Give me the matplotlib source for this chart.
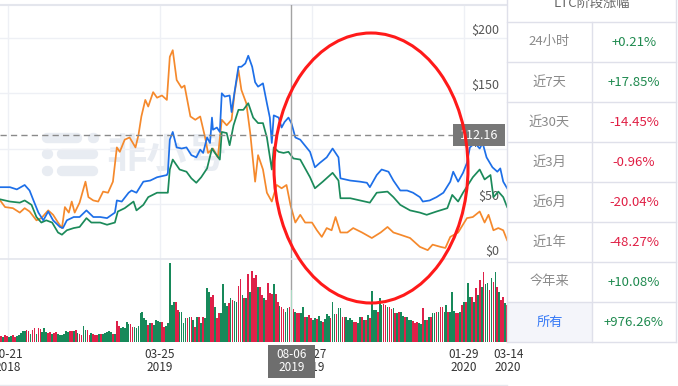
import numpy as np
import matplotlib
matplotlib.use('Agg')
import matplotlib.pyplot as plt
from matplotlib.patches import Ellipse, Rectangle
from matplotlib import transforms

plt.rcParams['font.family'] = ['Noto Sans CJK SC', 'DejaVu Sans']

# days counted from 2018-10-21
blue_day = [-8, 2, 9, 17, 22, 26, 31, 36, 41, 46, 53, 56, 60, 67, 73, 80, 87, 94, 101, 109,
            111, 116, 123, 126, 131, 138, 145, 152, 162, 163, 165, 168, 172, 177, 182, 187, 192, 196, 199, 203,
            206, 208, 209, 213, 216, 218, 221, 226, 228, 231, 235, 238, 242, 245, 249, 252, 255, 260, 264, 267,
            269, 271, 276, 279, 282, 286, 289, 293, 298, 308, 313, 318, 325, 331, 337, 339, 349, 359, 366, 369,
            376, 381, 388, 393, 400, 407, 413, 420, 423, 430, 437, 444, 451, 454, 459, 464, 468, 471, 476, 481,
            484, 488, 494, 499, 502, 505, 509]
blue_val = [65, 65, 63, 67, 62, 53, 42, 35, 43, 35, 29, 28, 35, 38, 38, 44, 38, 38, 37, 42,
            53, 52, 60, 62, 60, 70, 71, 74, 76, 78, 108, 115, 101, 100, 101, 94, 92, 99, 96, 110,
            105, 128, 117, 119, 115, 150, 147, 148, 133, 151, 174, 174, 177, 184, 174, 160, 156, 159, 141, 128,
            105, 130, 128, 119, 124, 128, 123, 110, 108, 97, 83, 87, 92, 100, 92, 73, 71, 70, 69, 65,
            76, 81, 79, 71, 62, 62, 60, 56, 52, 53, 56, 60, 70, 79, 70, 78, 87, 101, 105, 100,
            105, 92, 83, 79, 82, 70, 64]

green_day = [-8, 2, 12, 17, 24, 29, 34, 39, 45, 51, 55, 60, 67, 73, 80, 85, 94, 101, 109, 112,
             119, 128, 131, 138, 143, 152, 162, 163, 165, 168, 175, 182, 187, 192, 197, 203, 208, 211, 216, 218,
             223, 226, 230, 235, 240, 245, 250, 255, 260, 264, 269, 271, 276, 281, 286, 291, 298, 308, 313, 321,
             331, 337, 339, 349, 359, 369, 376, 387, 393, 400, 410, 420, 427, 437, 448, 453, 459, 464, 469, 474,
             481, 486, 492, 495, 500, 505, 509]
green_val = [54, 52, 51, 53, 49, 38, 33, 35, 33, 24, 22, 26, 28, 29, 37, 33, 33, 31, 33, 43,
             46, 52, 44, 49, 56, 60, 60, 60, 81, 90, 81, 79, 73, 69, 74, 82, 100, 96, 90, 115,
             114, 103, 121, 135, 135, 141, 128, 123, 123, 110, 81, 101, 97, 96, 97, 91, 90, 74, 64, 70,
             78, 71, 55, 55, 53, 51, 60, 61, 56, 49, 44, 42, 40, 43, 46, 58, 52, 60, 67, 74,
             81, 72, 76, 56, 61, 56, 47]

orange_day = [-8, -3, 5, 12, 17, 22, 29, 34, 41, 46, 51, 55, 58, 62, 65, 68, 73, 79, 82, 87,
              92, 97, 102, 107, 111, 114, 119, 124, 130, 133, 136, 140, 143, 148, 152, 157, 162, 165, 168, 172,
              177, 180, 186, 191, 196, 201, 204, 209, 214, 218, 223, 228, 231, 235, 238, 243, 247, 252, 255, 260,
              264, 269, 274, 279, 284, 288, 293, 298, 303, 310, 315, 320, 325, 330, 334, 339, 346, 352, 361, 371,
              380, 387, 393, 400, 410, 420, 428, 433, 441, 446, 451, 459, 468, 474, 481, 486, 490, 495, 500, 505,
              509]
orange_val = [53, 47, 46, 42, 46, 43, 35, 37, 44, 40, 33, 28, 47, 42, 52, 42, 51, 70, 56, 53,
              52, 61, 60, 70, 101, 97, 108, 110, 101, 112, 129, 144, 138, 151, 146, 148, 144, 183, 189, 162,
              155, 157, 129, 126, 129, 110, 96, 100, 92, 126, 121, 126, 150, 171, 153, 141, 114, 70, 94, 81,
              60, 52, 67, 64, 67, 49, 33, 40, 33, 33, 26, 20, 28, 26, 38, 24, 24, 28, 24, 19,
              24, 29, 24, 22, 19, 11, 8, 13, 11, 10, 20, 24, 37, 38, 43, 33, 40, 26, 28, 26,
              17]

# volume bars, one every 2 days starting at day -7
vol_start = -7
vol_step = 2
volume = [6, 5, 7, 6, 5, 6, 7, 5, 6, 7, 9, 11, 11, 12, 11, 8, 12, 14, 8, 14,
          13, 10, 14, 10, 9, 10, 8, 9, 10, 8, 7, 7, 8, 11, 10, 11, 11, 11, 12, 9,
          8, 7, 16, 12, 12, 7, 9, 8, 7, 7, 8, 8, 8, 9, 10, 11, 10, 8, 8, 21,
          16, 14, 15, 14, 20, 18, 18, 15, 15, 14, 16, 29, 30, 24, 22, 17, 19, 19, 17, 22,
          21, 20, 20, 15, 16, 19, 79, 37, 40, 40, 32, 30, 30, 19, 24, 24, 25, 25, 22, 15,
          25, 25, 19, 25, 24, 54, 50, 45, 47, 35, 24, 29, 29, 58, 39, 36, 39, 44, 42, 41,
          40, 56, 63, 47, 44, 44, 68, 50, 71, 64, 67, 55, 55, 47, 44, 42, 59, 49, 48, 58,
          48, 40, 36, 35, 33, 30, 34, 35, 52, 33, 30, 29, 29, 29, 35, 25, 25, 27, 24, 22,
          24, 23, 26, 21, 20, 23, 28, 26, 24, 40, 28, 28, 34, 34, 25, 25, 25, 22, 24, 22,
          20, 20, 19, 25, 25, 22, 22, 27, 24, 51, 32, 32, 30, 44, 37, 38, 37, 35, 35, 33,
          34, 29, 29, 30, 30, 26, 25, 25, 22, 22, 21, 19, 20, 19, 18, 34, 22, 22, 25, 25,
          29, 29, 30, 30, 35, 35, 30, 37, 30, 30, 50, 31, 29, 29, 30, 37, 40, 40, 59, 45,
          45, 40, 54, 47, 62, 55, 70, 58, 59, 52, 64, 60, 70, 55, 50, 42, 45, 39, 37]
vol_dir = ("rgrrggrrgg" "gggrrgrrgr" "rgggrrgrrg" "gggggrrgrg" "rrggrrgrrr"
           "grgggggrgr" "rgggggrrgg" "gggggrgrgg" "ggrrgggggr" "rggggrgrgr"
           "grgrgggrrg" "rrggggrgrg" "grrgrgrgrr" "rgrrgrrrrg" "rrgrrggrgr"
           "grrggrgrrg" "grggrgggrg" "grggrrgggg" "rrggrgrgrg" "ggrggrrgrr"
           "grgrggrggg" "rrrggrgrgr" "ggrgrrggrg" "ggrrgrgrgg" "rgrgrgrggr"
           "grgrgrrgr")

tick_day = [0, 155, 310, 465, 510]
tick_text = ["10-21\n2018", "03-25\n2019", "08-27\n2019", "01-29\n2020", "03-14\n2020"]
price_ticks = [0, 50, 100, 150, 200]

cross_day = 289
cross_text = "08-06\n2019"
last_price = 112.16

table_title = "LTC阶段涨幅"
periods = ["24小时", "近7天", "近30天", "近3月", "近6月", "近1年", "今年来", "所有"]
changes = [0.21, 17.85, -14.45, -0.96, -20.04, -48.27, 10.08, 976.26]

W, H = 678, 386
px_per_day = 0.98065
fig = plt.figure(figsize=(6.78, 3.86), dpi=100)


def box(x0, y0, x1, y1):
    return [x0 / W, 1 - y1 / H, (x1 - x0) / W, (y1 - y0) / H]


# background layer: watermark and frame lines
bg = fig.add_axes([0, 0, 1, 1], zorder=0)
bg.set_xlim(0, W)
bg.set_ylim(H, 0)
bg.axis('off')
wm = '#e8ecf2'
for xa, xb, yy in [(47, 77, 138), (92.5, 93.5, 138), (47, 48, 154), (62, 93, 154),
                   (47, 48, 171), (62, 93, 171)]:
    bg.plot([xa, xb], [yy, yy], color=wm, lw=7.5, solid_capstyle='round')
bg.text(106, 155, "非小号", fontsize=29, color=wm, fontweight='bold', va='center', ha='left')
bg.plot([0, 507], [385, 385], color='#e6e8ee', lw=1)

xlo = -8 / px_per_day
xhi = (510 - 8) / px_per_day
grid_c = '#eef0f5'

ax = fig.add_axes(box(0, 5, 510, 259), zorder=1)
ax.patch.set_alpha(0)
ax.set_xlim(xlo, xhi)
ax.set_ylim(0, 229.9)
ax.set_xticks(tick_day[:4])
ax.set_yticks(price_ticks)
ax.tick_params(length=0, labelbottom=False, labelleft=False)
ax.grid(True, color=grid_c, lw=1)
for s in ['left', 'right', 'bottom']:
    ax.spines[s].set_visible(False)
ax.spines['top'].set_color('#e4e6ed')
ax.spines['top'].set_linewidth(1.5)

for v in price_ticks:
    ax.annotate(f"${v}", xy=(1, v), xycoords=ax.get_yaxis_transform(),
                xytext=(-11, 4), textcoords='offset pixels', ha='right', va='baseline',
                fontsize=9, color='#555555', zorder=1.5)

ax.plot(orange_day, orange_val, color='#f5892c', lw=1.25, zorder=2)
ax.plot(green_day, green_val, color='#1b8a5a', lw=1.25, zorder=2)
ax.plot(blue_day, blue_val, color='#1d6fe8', lw=1.25, zorder=2)

ax.axhline(last_price, xmax=453 / 510, color='#8a8a8a', lw=1, dashes=(4.5, 3))
ytr = ax.get_yaxis_transform()
ax.add_patch(Rectangle((453 / 510, last_price - 10), 52 / 510, 20, transform=ytr,
                       fc='#777777', ec='none', zorder=4))
ax.text(479 / 510, last_price, f"{last_price:.2f}", transform=ytr, color='white',
        fontsize=9, ha='center', va='center', zorder=5)
ax.axvline(cross_day, color='#a3a3a3', lw=1, zorder=3)

# volume panel
axv = fig.add_axes(box(0, 259, 510, 342), zorder=1)
axv.patch.set_alpha(0)
axv.set_xlim(xlo, xhi)
axv.set_ylim(0, 83)
axv.set_xticks(tick_day[:4])
axv.set_yticks([])
axv.tick_params(length=0, labelbottom=False, labelleft=False)
axv.grid(True, axis='x', color=grid_c, lw=1)
for s in ['left', 'right', 'bottom']:
    axv.spines[s].set_visible(False)
axv.spines['top'].set_color('#e4e6ed')
axv.spines['top'].set_linewidth(1.2)

vol_day = vol_start + vol_step * np.arange(len(volume))
cols = ['#17895a' if c == 'g' else '#de2149' for c in vol_dir]
hi = int(np.where(vol_day == cross_day)[0][0])
cols[hi] = '#a9d9c2'
axv.bar(vol_day, volume, width=1.75, color=cols, linewidth=0, zorder=2)
axv.axvline(cross_day, color='#a3a3a3', lw=1, zorder=1.5)

xtr = transforms.blended_transform_factory(axv.transData, axv.transAxes)
lab_y = (342 - 361) / 83
for d, t in zip(tick_day, tick_text):
    axv.text(d, lab_y, t, transform=xtr, ha='center', va='center', fontsize=8.5,
             color='#333333', linespacing=1.0, clip_on=False, zorder=3)
bw = 47 / px_per_day
axv.add_patch(Rectangle((cross_day - bw / 2, (342 - 378) / 83), bw, 33 / 83, transform=xtr,
                        fc='#6e6e6e', ec='none', clip_on=False, zorder=4))
axv.text(cross_day, lab_y, cross_text, transform=xtr, ha='center', va='center', fontsize=8.5,
         color='white', linespacing=1.0, clip_on=False, zorder=5)

# overlay: table and red circle
ov = fig.add_axes([0, 0, 1, 1], zorder=3)
ov.set_xlim(0, W)
ov.set_ylim(H, 0)
ov.axis('off')
ov.patch.set_alpha(0)

ov.add_patch(Rectangle((507, 0), 171, 342, fc='white', ec='none', zorder=1))
row_h = 40
top = 22
n = len(periods)
ov.add_patch(Rectangle((507, top + (n - 1) * row_h), 85, row_h, fc='#f4f5fa', ec='none', zorder=1.5))
line_c = '#dfe0ea'
for k in range(n + 1):
    ov.plot([507, 676], [top + k * row_h] * 2, color=line_c, lw=1, zorder=2)
ov.plot([507, 507], [0, 342], color=line_c, lw=1, zorder=2)
ov.plot([676, 676], [0, 342], color=line_c, lw=1, zorder=2)
ov.plot([592, 592], [top, 342], color=line_c, lw=1, zorder=2)
ov.text(592, 3, table_title, ha='center', va='center', fontsize=9.5, color='#666666', zorder=3)
for k, (p, c) in enumerate(zip(periods, changes)):
    yc = top + k * row_h + row_h / 2
    lc = '#3478f6' if k == n - 1 else '#8a8a8a'
    ov.text(549.5, yc, p, ha='center', va='center', fontsize=9.5, color=lc, zorder=3)
    vc = '#1f8a4f' if c >= 0 else '#e01e44'
    ov.text(634, yc, f"{c:+.2f}%", ha='center', va='center', fontsize=9.5, color=vc, zorder=3)

ov.add_patch(Ellipse((371, 168), 194, 270, fill=False, ec='#ff1a1a', lw=2.2, zorder=5))

fig.savefig('out.png', dpi=100)
